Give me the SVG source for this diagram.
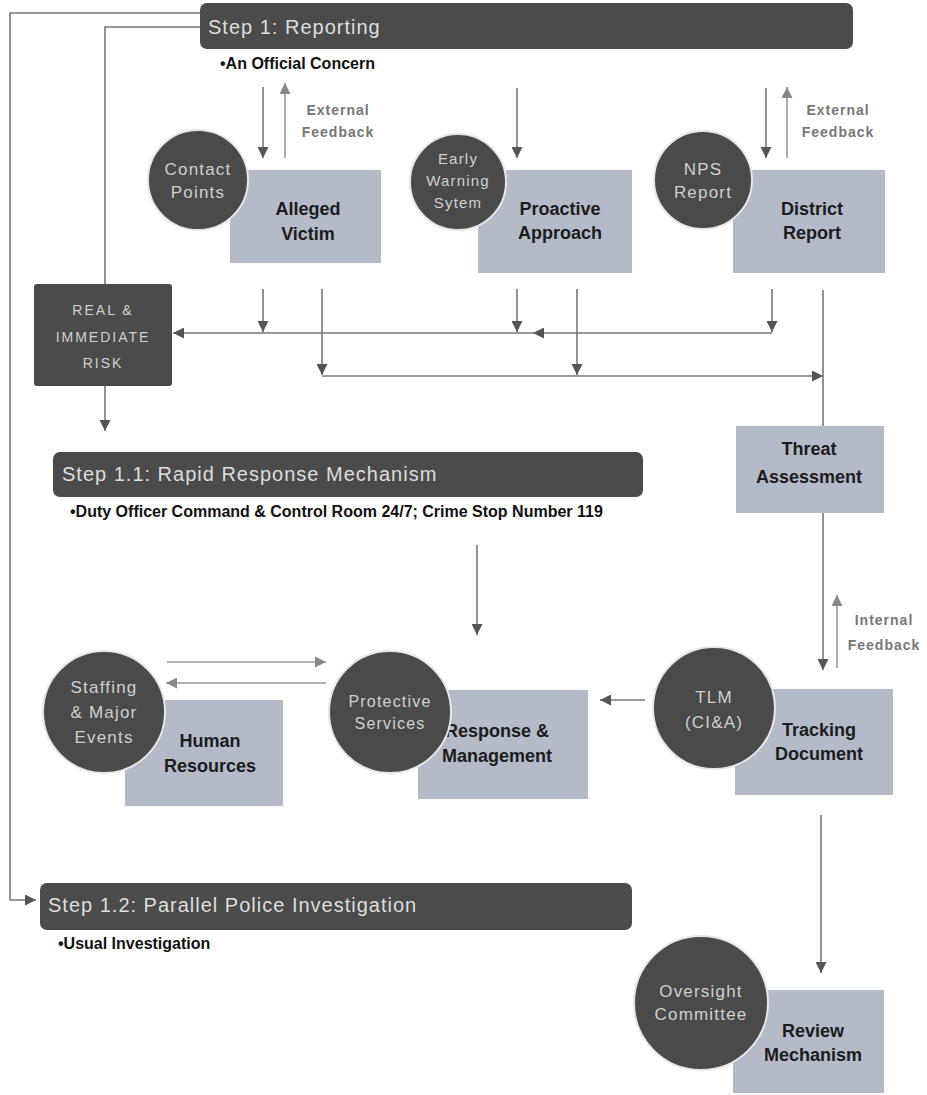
<svg xmlns="http://www.w3.org/2000/svg" width="927" height="1095" viewBox="0 0 927 1095">
<style>
.bar{fill:#4b4b4b}
.bt{font-family:"Liberation Sans",Arial,sans-serif;font-size:20px;fill:#dedede;letter-spacing:1px}
.sub{font-family:"Liberation Sans",Arial,sans-serif;font-size:16px;font-weight:bold;fill:#111}
.box{fill:#b4bac8}
.bx{font-family:"Liberation Sans",Arial,sans-serif;font-size:18px;font-weight:bold;fill:#1c1c1c;text-anchor:middle}
.circ{fill:#4a4a4a;stroke:#e6e6e6;stroke-width:2}
.ct{font-family:"Liberation Sans",Arial,sans-serif;font-size:17px;fill:#d0d0d0;text-anchor:middle;letter-spacing:1.2px}
.fb{font-family:"Liberation Sans",Arial,sans-serif;font-size:14px;font-weight:bold;fill:#777;text-anchor:middle;letter-spacing:1px}
.ln{fill:none;stroke:#777;stroke-width:1.6}
.lt{fill:none;stroke:#999;stroke-width:1.6}
</style>
<defs>
<marker id="ah" viewBox="0 0 10 10" refX="10" refY="5" markerWidth="11" markerHeight="11" markerUnits="userSpaceOnUse" orient="auto"><path d="M0,0 L10,5 L0,10 z" fill="#555"/></marker>
<marker id="al" viewBox="0 0 10 10" refX="10" refY="5" markerWidth="11" markerHeight="11" markerUnits="userSpaceOnUse" orient="auto"><path d="M0,0 L10,5 L0,10 z" fill="#888"/></marker>
</defs>
<rect width="927" height="1095" fill="#ffffff"/>

<g id="connectors">
<path class="ln" d="M200,13 H10 V900 H36" marker-end="url(#ah)"/>
<path class="ln" d="M200,27 H105 V431" marker-end="url(#ah)"/>
<path class="ln" d="M263,87 V158" marker-end="url(#ah)"/>
<path class="lt" d="M285,158 V83" marker-end="url(#al)"/>
<path class="ln" d="M517,88 V158" marker-end="url(#ah)"/>
<path class="ln" d="M766,88 V158" marker-end="url(#ah)"/>
<path class="lt" d="M787,158 V87" marker-end="url(#al)"/>
<path class="ln" d="M263,289 V332" marker-end="url(#ah)"/>
<path class="ln" d="M517,289 V332" marker-end="url(#ah)"/>
<path class="ln" d="M772,289 V332" marker-end="url(#ah)"/>
<path class="ln" d="M772,333 H533" marker-end="url(#ah)"/>
<path class="ln" d="M535,333 H173" marker-end="url(#ah)"/>
<path class="ln" d="M322,289 V375" marker-end="url(#ah)"/>
<path class="ln" d="M577,289 V375" marker-end="url(#ah)"/>
<path class="ln" d="M322,376 H823" marker-end="url(#ah)"/>
<path class="ln" d="M823,290 V426"/>
<path class="ln" d="M823,513 V670" marker-end="url(#ah)"/>
<path class="lt" d="M837,668 V595" marker-end="url(#al)"/>
<path class="ln" d="M477,545 V635" marker-end="url(#ah)"/>
<path class="ln" d="M645,700 H600" marker-end="url(#ah)"/>
<path class="lt" d="M167,662 H326" marker-end="url(#al)"/>
<path class="lt" d="M326,683 H166" marker-end="url(#al)"/>
<path class="ln" d="M821,815 V973" marker-end="url(#ah)"/>
</g>

<g id="step1">
<rect class="bar" x="200" y="3" width="653" height="46" rx="7"/>
<text class="bt" x="208" y="34">Step 1: Reporting</text>
<text class="sub" x="220" y="69">•An Official Concern</text>
</g>

<g id="feedback1">
<text class="fb" x="338" y="115">External</text>
<text class="fb" x="338" y="137">Feedback</text>
</g>
<g id="feedback2">
<text class="fb" x="838" y="115">External</text>
<text class="fb" x="838" y="137">Feedback</text>
</g>

<g id="alleged-victim">
<rect class="box" x="230" y="170" width="151" height="93"/>
<text class="bx" x="308" y="215">Alleged</text>
<text class="bx" x="308" y="240">Victim</text>
</g>
<g id="contact-points">
<circle class="circ" cx="198" cy="180" r="50"/>
<text class="ct" x="198" y="175">Contact</text>
<text class="ct" x="198" y="198">Points</text>
</g>

<g id="proactive-approach">
<rect class="box" x="478" y="170" width="154" height="103"/>
<text class="bx" x="560" y="215">Proactive</text>
<text class="bx" x="560" y="239">Approach</text>
</g>
<g id="early-warning">
<circle class="circ" cx="458" cy="182" r="48"/>
<text class="ct" x="458" y="164" style="font-size:15px">Early</text>
<text class="ct" x="458" y="186" style="font-size:15px">Warning</text>
<text class="ct" x="458" y="208" style="font-size:15px">Sytem</text>
</g>

<g id="district-report">
<rect class="box" x="733" y="170" width="152" height="103"/>
<text class="bx" x="812" y="215">District</text>
<text class="bx" x="812" y="239">Report</text>
</g>
<g id="nps-report">
<circle class="circ" cx="703" cy="180" r="49"/>
<text class="ct" x="703" y="175">NPS</text>
<text class="ct" x="703" y="198">Report</text>
</g>

<g id="real-risk">
<rect class="bar" x="34" y="284" width="138" height="102" rx="3"/>
<text class="ct" x="103" y="315" style="font-size:14px;letter-spacing:2px">REAL &amp;</text>
<text class="ct" x="103" y="342" style="font-size:14px;letter-spacing:2px">IMMEDIATE</text>
<text class="ct" x="103" y="368" style="font-size:14px;letter-spacing:2px">RISK</text>
</g>

<g id="threat-assessment">
<rect class="box" x="736" y="426" width="148" height="87"/>
<text class="bx" x="809" y="455">Threat</text>
<text class="bx" x="809" y="483">Assessment</text>
</g>

<g id="step1-1">
<rect class="bar" x="53" y="452" width="590" height="45" rx="7"/>
<text class="bt" x="62" y="481">Step 1.1: Rapid Response Mechanism</text>
<text class="sub" x="70" y="517">•Duty Officer Command &amp; Control Room 24/7; Crime Stop Number 119</text>
</g>

<g id="human-resources">
<rect class="box" x="125" y="700" width="158" height="106"/>
<text class="bx" x="210" y="747">Human</text>
<text class="bx" x="210" y="772">Resources</text>
</g>
<g id="staffing">
<circle class="circ" cx="104" cy="712" r="61"/>
<text class="ct" x="104" y="693">Staffing</text>
<text class="ct" x="104" y="718">&amp; Major</text>
<text class="ct" x="104" y="743">Events</text>
</g>

<g id="response-management">
<rect class="box" x="418" y="690" width="170" height="109"/>
<text class="bx" x="497" y="737">Response &amp;</text>
<text class="bx" x="497" y="762">Management</text>
</g>
<g id="protective-services">
<circle class="circ" cx="390" cy="712" r="61"/>
<text class="ct" x="390" y="707" style="font-size:16px">Protective</text>
<text class="ct" x="390" y="729" style="font-size:16px">Services</text>
</g>

<g id="tracking-document">
<rect class="box" x="735" y="689" width="158" height="106"/>
<text class="bx" x="819" y="736">Tracking</text>
<text class="bx" x="819" y="760">Document</text>
</g>
<g id="tlm">
<circle class="circ" cx="714" cy="708" r="61"/>
<text class="ct" x="714" y="703">TLM</text>
<text class="ct" x="714" y="728">(CI&amp;A)</text>
</g>

<g id="internal-feedback">
<text class="fb" x="884" y="625">Internal</text>
<text class="fb" x="884" y="650">Feedback</text>
</g>

<g id="step1-2">
<rect class="bar" x="40" y="883" width="592" height="47" rx="7"/>
<text class="bt" x="48" y="912">Step 1.2: Parallel Police Investigation</text>
<text class="sub" x="58" y="949">•Usual Investigation</text>
</g>

<g id="review-mechanism">
<rect class="box" x="733" y="990" width="151" height="103"/>
<text class="bx" x="813" y="1037">Review</text>
<text class="bx" x="813" y="1061">Mechanism</text>
</g>
<g id="oversight">
<circle class="circ" cx="701" cy="1003" r="67"/>
<text class="ct" x="701" y="997">Oversight</text>
<text class="ct" x="701" y="1020">Committee</text>
</g>
</svg>
